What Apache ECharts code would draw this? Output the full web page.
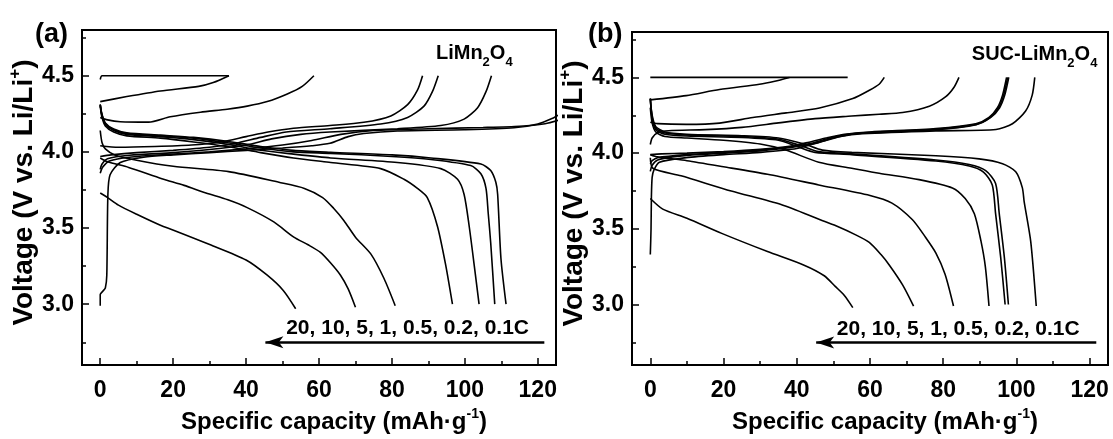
<!DOCTYPE html>
<html><head><meta charset="utf-8">
<script src="https://cdn.jsdelivr.net/npm/echarts@6/dist/echarts.min.js"></script>
<style>html,body{margin:0;padding:0;background:#fff}#c{width:1113px;height:439px}</style>
</head><body><div id="c"></div>
<script>
// ---------- tick values ----------
const xTicks = [0, 20, 40, 60, 80, 100, 120];
const xMinorTicks = [10, 30, 50, 70, 90, 110];
const yTicks = [3.0, 3.5, 4.0, 4.5];
const yMinorTicks = [2.75, 3.25, 3.75, 4.25, 4.75];
const rateText = '20, 10, 5, 1, 0.5, 0.2, 0.1C';

// ---------- panel (a) LiMn2O4 : [capacity mAh/g, voltage V] ----------
const aPlateau45 = [[0,4.475],[0.5,4.5],[35.3,4.5]];
const aCharge20C = [[0,4.33],[7.3,4.363],[16.5,4.4],[27,4.43],[31,4.455],[35.3,4.5]];
const aCharge10C = [[0,4.226],[2,4.21],[5.5,4.198],[13.3,4.195],[19.2,4.23],[27.5,4.26],[34.8,4.28],[40.3,4.30],[45.8,4.33],[51.3,4.38],[55.4,4.43],[58.6,4.5]];
const aCharge5C = [[0,4.04],[5,4.03],[15,4.035],[25,4.045],[33,4.065],[40,4.1],[46,4.13],[53,4.155],[63,4.173],[72.3,4.194],[79.7,4.236],[84.3,4.31],[87,4.405],[88.4,4.5]];
const aCharge1C = [[0,3.97],[3,3.98],[10,3.995],[20,4.01],[30,4.03],[37,4.055],[44,4.095],[51,4.13],[63,4.152],[76.9,4.183],[84.3,4.226],[88.8,4.30],[91.1,4.395],[92.7,4.5]];
const aCharge05C = [[0,3.885],[0.5,3.92],[2,3.955],[8,3.978],[20,3.995],[30,4.015],[40,4.045],[47,4.085],[55,4.115],[63,4.13],[81.5,4.152],[93.4,4.173],[99.8,4.215],[103.5,4.29],[105.8,4.395],[107.3,4.5]];
const aCharge02C = [[0,3.86],[0.7,3.9],[2.5,3.94],[8,3.965],[20,3.985],[30,4.0],[40,4.02],[50,4.045],[58,4.075],[66,4.115],[75,4.14],[90,4.152],[105,4.16],[115,4.168],[122,4.185],[126,4.21]];
const aCharge01C = [[0,2.99],[0,3.064],[0.7,3.085],[1.4,3.106],[1.8,3.19],[2.1,3.72],[2.7,3.85],[5.5,3.93],[11.9,3.965],[20,3.98],[30,3.995],[40,4.01],[50,4.025],[58,4.04],[63,4.056],[68,4.1],[72.3,4.12],[81.5,4.137],[99.8,4.145],[113.5,4.158],[120,4.183],[124.5,4.226],[126,4.245]];
const aDis01C = [[0,4.31],[0.45,4.25],[1.4,4.19],[3.7,4.15],[7.3,4.125],[16.5,4.11],[25.6,4.095],[34.8,4.07],[44,4.035],[53,4.01],[63.2,3.997],[80,3.98],[90.7,3.96],[104.4,3.92],[107.1,3.877],[108.5,3.80],[109,3.72],[109.9,3.3],[111.3,3.0]];
const aDis02C = [[0,4.31],[0.45,4.245],[1.4,4.185],[3.7,4.145],[7.3,4.12],[16.5,4.105],[25.6,4.09],[34.8,4.06],[44,4.025],[53,4.0],[63.2,3.99],[80,3.97],[90.7,3.95],[101.6,3.91],[104.4,3.856],[105.8,3.76],[106.4,3.6],[107.1,3.4],[108.2,3.0]];
const aDis05C = [[0,4.31],[0.45,4.24],[1.4,4.18],[3.7,4.14],[7.3,4.115],[16.5,4.1],[25.6,4.08],[34.8,4.05],[44,4.01],[53,3.985],[63.2,3.96],[81.5,3.93],[93.4,3.89],[98,3.82],[99.8,3.72],[101.2,3.51],[102.6,3.25],[103.9,3.0]];
const aDis1C = [[0,4.30],[0.45,4.23],[1.4,4.17],[3.7,4.13],[7.3,4.105],[16.5,4.09],[25.6,4.065],[34.8,4.035],[44,3.995],[53,3.96],[63.2,3.93],[76.9,3.89],[83.3,3.82],[87,3.76],[89.7,3.7],[92.5,3.51],[94.8,3.25],[96.6,3.0]];
const aDis5C = [[0,4.14],[0.5,4.06],[1.4,4.02],[4,3.98],[10,3.945],[20,3.905],[35.2,3.87],[49,3.80],[56,3.76],[61,3.70],[64,3.63],[66.8,3.55],[70,3.44],[74.2,3.33],[77.8,3.17],[80.9,2.99]];
const aDis10C = [[0,3.96],[2,3.935],[7.8,3.898],[16.9,3.824],[23,3.78],[29,3.73],[35,3.685],[40.3,3.634],[47.6,3.54],[53.1,3.44],[57,3.39],[60.4,3.34],[63.2,3.27],[65.9,3.19],[68,3.1],[70,2.98]];
const aDis20C = [[0,3.73],[2,3.70],[5,3.65],[10,3.59],[16.5,3.518],[20.1,3.486],[30.2,3.39],[40,3.29],[45.8,3.19],[50.2,3.09],[53.6,2.97]];

// ---------- panel (b) SUC-LiMn2O4 ----------
const bPlateau45 = [[0,4.5],[53.9,4.5]];
const bCharge20C = [[0,4.352],[9.8,4.38],[18.9,4.42],[29.8,4.455],[34,4.475],[38,4.5]];
const bCharge10C = [[0,4.204],[2,4.195],[9.8,4.19],[18.9,4.198],[28,4.235],[37.1,4.266],[46.2,4.298],[55.3,4.36],[59.8,4.415],[62.5,4.455],[63.9,4.5]];
const bCharge5C = [[0,4.057],[0.5,4.1],[2,4.135],[5,4.148],[15,4.155],[25,4.17],[35,4.2],[45,4.228],[55,4.245],[62.5,4.257],[68.9,4.268],[76.2,4.31],[80.7,4.373],[83,4.437],[84.3,4.5]];
const bCharge1C = [[0,3.99],[3,3.995],[10,4.0],[20,4.01],[30,4.025],[38,4.045],[43,4.07],[48,4.1],[53,4.125],[60,4.14],[78,4.162],[88.9,4.194],[92.5,4.236],[94.8,4.30],[96.2,4.383],[97.3,4.5]];
const bCharge05C = [[0,3.93],[0.5,3.95],[2,3.97],[10,3.99],[20,4.005],[30,4.02],[38,4.04],[44,4.065],[49,4.1],[54,4.125],[60,4.138],[78,4.158],[89,4.19],[92.8,4.236],[95.1,4.3],[96.5,4.383],[97.6,4.5]];
const bCharge02C = [[0,3.88],[0.5,3.92],[2,3.955],[8,3.98],[20,4.0],[30,4.015],[38,4.035],[45,4.065],[50,4.1],[55,4.125],[60,4.135],[78,4.155],[89,4.188],[93,4.236],[95.4,4.3],[96.8,4.383],[97.9,4.5]];
const bCharge01C = [[0,3.33],[0.2,3.5],[0.3,3.71],[0.5,3.84],[1,3.89],[2.5,3.94],[9.8,3.97],[20,3.99],[30,4.005],[40,4.03],[46,4.07],[52,4.11],[58,4.128],[78,4.147],[94.4,4.156],[98.9,4.194],[102.5,4.278],[104.3,4.383],[105,4.5]];
const bDis01C = [[0,4.36],[0.5,4.25],[1.5,4.175],[4,4.14],[10,4.125],[25,4.115],[35,4.1],[42,4.06],[47,4.02],[55,4.005],[78,3.983],[89.8,3.962],[96.2,3.93],[99.8,3.877],[101.6,3.772],[102.1,3.68],[103.9,3.416],[105.4,2.99]];
const bDis02C = [[0,4.36],[0.5,4.24],[1.5,4.165],[4,4.133],[10,4.12],[25,4.11],[35,4.092],[41,4.05],[46,4.01],[55,3.995],[78,3.955],[87.1,3.925],[91.6,3.885],[94.3,3.8],[95.3,3.6],[96.7,3.31],[97.8,3.0]];
const bDis05C = [[0,4.36],[0.5,4.23],[1.5,4.155],[4,4.125],[10,4.113],[25,4.103],[35,4.085],[40,4.045],[45,4.005],[55,3.99],[78,3.948],[87.1,3.915],[91,3.875],[93.4,3.79],[94.3,3.6],[95.7,3.31],[96.9,3.0]];
const bDis1C = [[0,4.3],[0.5,4.2],[1.5,4.14],[4,4.11],[10,4.1],[20,4.085],[30,4.06],[37,4.02],[46,3.94],[55,3.9],[62.5,3.867],[73.4,3.825],[82.5,3.77],[86,3.7],[88.5,3.6],[90.3,3.42],[91.5,3.25],[92.5,2.99]];
const bDis5C = [[0,3.99],[2,3.975],[10,3.95],[20,3.91],[32,3.86],[46,3.79],[60,3.72],[66,3.67],[71.6,3.56],[75,3.45],[78,3.34],[80.5,3.2],[82.8,2.99]];
const bDis10C = [[0,3.97],[0.7,3.9],[8.4,3.85],[22.1,3.75],[35.7,3.66],[46.4,3.56],[50.7,3.52],[56.1,3.46],[59.8,3.41],[63,3.33],[65.3,3.26],[68.9,3.13],[71.9,2.99]];
const bDis20C = [[0,3.70],[3.4,3.63],[10,3.57],[19.5,3.47],[32,3.35],[42,3.26],[47.5,3.19],[50.5,3.12],[53,3.06],[55.3,2.98]];

const panelA = [aPlateau45,aCharge20C,aCharge10C,aCharge5C,aCharge1C,aCharge05C,aCharge02C,aCharge01C,aDis01C,aDis02C,aDis05C,aDis1C,aDis5C,aDis10C,aDis20C];
const panelB = [bPlateau45,bCharge20C,bCharge10C,bCharge5C,bCharge1C,bCharge05C,bCharge02C,bCharge01C,bDis01C,bDis02C,bDis05C,bDis1C,bDis5C,bDis10C,bDis20C];

// ---------- styling ----------
const FONT = '"Liberation Sans", Arial, sans-serif';
const BLACK = '#000';
const baseText = {fontFamily: FONT, fontWeight: 'bold', color: BLACK, opacity: 1, textBorderWidth: 0};

function mainX(gi) {
  return {
    gridIndex: gi, type: 'value', min: -5, max: 125, position: 'bottom',
    axisLine: {onZero: false, lineStyle: {color: BLACK, width: 2}},
    axisTick: {inside: true, length: 7, customValues: xTicks, lineStyle: {color: BLACK, width: 1.5}},
    axisLabel: Object.assign({customValues: xTicks, fontSize: 23, margin: 14}, baseText),
    splitLine: {show: false},
    name: '{n|Specific capacity (mAh·g}{p|-1}{n|)}',
    nameLocation: 'middle', nameGap: 26,
    nameTextStyle: {padding: [0, 0, 0, 30], rich: {
      n: Object.assign({fontSize: 24, lineHeight: 30, verticalAlign: 'middle'}, baseText),
      p: Object.assign({fontSize: 14, lineHeight: 30, verticalAlign: 'top'}, baseText)
    }}
  };
}
function minorX(gi) {
  return {
    gridIndex: gi, type: 'value', min: -5, max: 125, position: 'bottom',
    axisLine: {show: false, onZero: false},
    axisTick: {inside: true, length: 4, customValues: xMinorTicks, lineStyle: {color: BLACK, width: 1.5}},
    axisLabel: {show: false}, splitLine: {show: false}
  };
}
function mainY(gi, gap) {
  return {
    gridIndex: gi, type: 'value', min: 2.6, max: 4.8, position: 'left',
    axisLine: {onZero: false, lineStyle: {color: BLACK, width: 2}},
    axisTick: {inside: true, length: 7, customValues: yTicks, lineStyle: {color: BLACK, width: 1.5}},
    axisLabel: Object.assign({customValues: yTicks, fontSize: 23, margin: 8, formatter: v => v.toFixed(1)}, baseText),
    splitLine: {show: false},
    name: '{n|Voltage (V vs. Li/Li}{p|+}{n|)}',
    nameLocation: 'middle', nameRotate: 90, nameGap: gap,
    nameTextStyle: {padding: [0, 0, 0, 10], rich: {
      n: Object.assign({fontSize: 28, lineHeight: 34, verticalAlign: 'middle'}, baseText),
      p: Object.assign({fontSize: 17, lineHeight: 34, verticalAlign: 'top'}, baseText)
    }}
  };
}
function minorY(gi) {
  return {
    gridIndex: gi, type: 'value', min: 2.6, max: 4.8, position: 'left',
    axisLine: {show: false, onZero: false},
    axisTick: {inside: true, length: 4, customValues: yMinorTicks, lineStyle: {color: BLACK, width: 1.5}},
    axisLabel: {show: false}, splitLine: {show: false}
  };
}

const series = [];
function addCurves(list, ax) {
  list.forEach(d => series.push({
    type: 'line', xAxisIndex: ax, yAxisIndex: ax, data: d,
    symbol: 'none', smooth: 0.25, silent: true,
    lineStyle: {color: BLACK, width: 1.6}
  }));
}
addCurves(panelA, 0);
addCurves(panelB, 2);

const subRich = {
  n: Object.assign({fontSize: 20, lineHeight: 30, verticalAlign: 'middle'}, baseText),
  s: Object.assign({fontSize: 13, lineHeight: 30, verticalAlign: 'bottom'}, baseText)
};
function annotations(ax, nameFmt, namePos, ratePos) {
  series.push({
    type: 'scatter', xAxisIndex: ax, yAxisIndex: ax, symbolSize: 0, silent: true,
    itemStyle: {opacity: 1, color: BLACK},
    data: [
      {value: namePos, label: {show: true, position: 'left', distance: 0, formatter: nameFmt, rich: subRich, opacity: 1}},
      {value: ratePos, label: Object.assign({show: true, position: 'inside', formatter: rateText, fontSize: 21}, baseText)}
    ],
    markLine: {
      silent: true, animation: false, label: {show: false},
      lineStyle: {color: BLACK, width: 2.5, type: 'solid', opacity: 1},
      data: [[{coord: [121.8, 2.75], symbol: 'none'}, {coord: [45.3, 2.75], symbol: 'arrow', symbolSize: [9, 18]}]]
    }
  });
}
annotations(0, '{n|LiMn}{s|2}{n|O}{s|4}', [113.1, 4.645], [84.3, 2.845]);
annotations(2, '{n|SUC-LiMn}{s|2}{n|O}{s|4}', [122.1, 4.65], [84.1, 2.835]);

const option = {
  backgroundColor: '#fff',
  animation: false,
  title: [
    {text: '(a)', left: 35, top: 21, padding: 0, textStyle: Object.assign({fontSize: 27}, baseText)},
    {text: '(b)', left: 588, top: 21, padding: 0, textStyle: Object.assign({fontSize: 27}, baseText)}
  ],
  grid: [
    {left: 82, top: 30, width: 474, height: 347, show: true, borderColor: BLACK, borderWidth: 2, containLabel: false},
    {left: 632, top: 32, width: 476, height: 347, show: true, borderColor: BLACK, borderWidth: 2, containLabel: false}
  ],
  xAxis: [mainX(0), minorX(0), mainX(1), minorX(1)],
  yAxis: [mainY(0, 38), minorY(0), mainY(1, 35), minorY(1)],
  series: series
};

const chart = echarts.init(document.getElementById('c'), null, {renderer: 'canvas'});
chart.setOption(option);
</script>
</body></html>
